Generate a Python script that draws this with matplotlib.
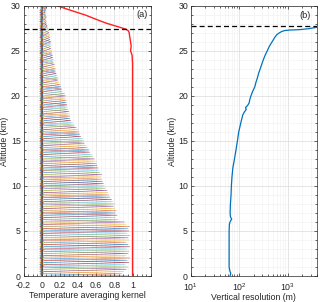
import numpy as np
import matplotlib
matplotlib.use("Agg")
import matplotlib.pyplot as plt
from matplotlib.ticker import MultipleLocator, LogLocator, NullFormatter

plt.rcParams['font.family'] = ['Liberation Sans', 'DejaVu Sans']

# ---- data -------------------------------------------------------------
# retrieval grid (km) and averaging-kernel peak value at each level
grid_step = 0.25
ak_peaks = [0.95, 0.88, 0.90, 0.93, 0.95, 0.92, 0.96, 0.94, 0.97, 0.93,
            0.95, 0.96, 0.94, 0.97, 0.95, 0.93, 0.96, 0.95, 0.97, 0.94,
            0.96, 0.95, 0.97, 0.93, 0.91, 0.84, 0.81, 0.83, 0.81, 0.82,
            0.80, 0.79, 0.80, 0.78, 0.77, 0.75, 0.74, 0.73, 0.72, 0.70,
            0.69, 0.68, 0.67, 0.66, 0.65, 0.66, 0.64, 0.63, 0.62, 0.61,
            0.60, 0.59, 0.58, 0.56, 0.55, 0.53, 0.52, 0.50, 0.49, 0.47,
            0.46, 0.45, 0.43, 0.42, 0.41, 0.40, 0.38, 0.36, 0.34, 0.32,
            0.31, 0.31, 0.30, 0.30, 0.29, 0.28, 0.28, 0.27, 0.27, 0.26,
            0.26, 0.25, 0.23, 0.22, 0.21, 0.20, 0.19, 0.18, 0.18, 0.17,
            0.16, 0.15, 0.15, 0.14, 0.14, 0.13, 0.13, 0.12, 0.12, 0.11,
            0.11, 0.10, 0.10, 0.10, 0.10, 0.09, 0.09, 0.09, 0.08, 0.08,
            0.07, 0.06, 0.05, 0.05, 0.04, 0.05, 0.04, 0.04, 0.04, 0.05,
            0.05]
# side-lobe values of each kernel at offsets of 1, 2, 3 grid levels
ak_lobes = [0.03, -0.02, 0.01]

# measurement response (sum of kernel rows)
resp_alt = [0, 5, 10, 15, 20, 23.5, 24.5, 25.0, 25.5, 26.0, 26.5, 27.0,
            27.2, 27.4, 27.67, 28.05, 28.41, 28.97, 29.52, 30.0]
resp_val = [1.0, 1.0, 1.0, 1.0, 1.0, 1.0, 0.995, 0.978, 0.985, 0.978, 0.97,
            0.963, 0.955, 0.927, 0.84, 0.715, 0.62, 0.48, 0.31, 0.17]

# vertical resolution (m)
res_alt = [0, 0.3, 0.6, 1.0, 2, 3, 4, 5, 5.8, 6.1, 6.3, 6.6, 7, 8, 9, 10,
           11, 12, 13, 14, 15, 16, 17, 17.9, 18.2, 18.5, 18.7, 18.9, 19.2,
           19.6, 20, 20.5, 21, 21.5, 22, 22.5, 23, 23.5, 24, 24.5, 25, 25.5,
           26, 26.5, 26.8, 27.0, 27.15, 27.25, 27.3, 27.35, 27.45, 27.6]
res_val = [65, 67, 64, 62, 62, 62, 62, 62, 63, 66, 70, 66, 65, 66, 68, 69,
           71, 74, 80, 86, 92, 98, 108, 119, 128, 140, 135, 148, 160, 166,
           175, 190, 210, 222, 238, 252, 272, 292, 315, 343, 380, 420, 478,
           545, 600, 680, 760, 880, 1100, 1800, 2700, 3900]

top_alt_a = 27.4
top_alt_b = 27.7

# ---- figure -----------------------------------------------------------
matlab_colors = ['#0072BD', '#D95319', '#EDB120', '#7E2F8E',
                 '#77AC30', '#4DBEEE', '#A2142F']
ax_col = '#262626'
fs = 6.3

fig = plt.figure(figsize=(3.2, 3.02), dpi=100)
ax1 = fig.add_axes([0.0735, 0.086, 0.3975, 0.895])
ax2 = fig.add_axes([0.596, 0.086, 0.394, 0.895])

n = len(ak_peaks)
z = np.arange(n) * grid_step
AK = np.zeros((n, n))
for i in range(n):
    AK[i, i] = ak_peaks[i]
    for k, v in enumerate(ak_lobes, start=1):
        if i - k >= 0:
            AK[i, i - k] = v
        if i + k < n:
            AK[i, i + k] = v

for i in range(n):
    ax1.plot(AK[i], z, color=matlab_colors[i % 7], lw=0.45, alpha=0.7)
ax1.plot(resp_val, resp_alt, color='#ff2020', lw=1.0)
ax1.axhline(top_alt_a, color='k', ls=(0, (4, 2.5)), lw=0.9)

ax2.plot(res_val, res_alt, color='#0072BD', lw=0.9)
ax2.axhline(top_alt_b, color='k', ls=(0, (4, 2.5)), lw=0.9)
ax2.set_xscale('log')

ax1.set_xlim(-0.2, 1.2)
ax1.set_ylim(0, 30)
ax1.xaxis.set_minor_locator(MultipleLocator(0.05))
ax1.set_xticks([-0.2, 0, 0.2, 0.4, 0.6, 0.8, 1.0])
ax1.set_xticklabels(['-0.2', '0', '0.2', '0.4', '0.6', '0.8', '1'])

ax2.set_xlim(10, 4000)
ax2.set_ylim(0, 30)
ax2.xaxis.set_major_locator(LogLocator(base=10, numticks=10))
ax2.xaxis.set_minor_locator(LogLocator(base=10, subs=np.arange(2, 10), numticks=10))
ax2.xaxis.set_minor_formatter(NullFormatter())

for ax in (ax1, ax2):
    ax.yaxis.set_major_locator(MultipleLocator(5))
    ax.yaxis.set_minor_locator(MultipleLocator(1))
    ax.grid(True, which='major', color='#dadada', lw=0.5)
    ax.grid(True, which='minor', color='#efefef', lw=0.4)
    ax.set_axisbelow(True)
    ax.tick_params(which='both', direction='in', top=True, right=True,
                   colors=ax_col, labelsize=fs, width=0.5)
    ax.tick_params(axis='x', which='major', pad=3.5)
    ax.tick_params(axis='y', which='major', pad=2)
    ax.tick_params(which='major', length=2.5)
    ax.tick_params(which='minor', length=1.3)
    for s in ax.spines.values():
        s.set_color(ax_col)
        s.set_linewidth(0.5)
    ax.set_ylabel('Altitude (km)', fontsize=fs, color=ax_col)

ax1.yaxis.set_label_coords(-0.115, 0.5)
ax2.yaxis.set_label_coords(-0.11, 0.5)

ax1.set_xlabel('Temperature averaging kernel', fontsize=fs, color=ax_col, labelpad=1)
ax2.set_xlabel('Vertical resolution (m)', fontsize=fs, color=ax_col, labelpad=0)
ax1.text(0.93, 0.966, '(a)', transform=ax1.transAxes, ha='center', va='center',
         fontsize=fs + 0.3, color=ax_col)
ax2.text(0.907, 0.964, '(b)', transform=ax2.transAxes, ha='center', va='center',
         fontsize=fs + 0.3, color=ax_col)

fig.savefig('out.png', dpi=100)
